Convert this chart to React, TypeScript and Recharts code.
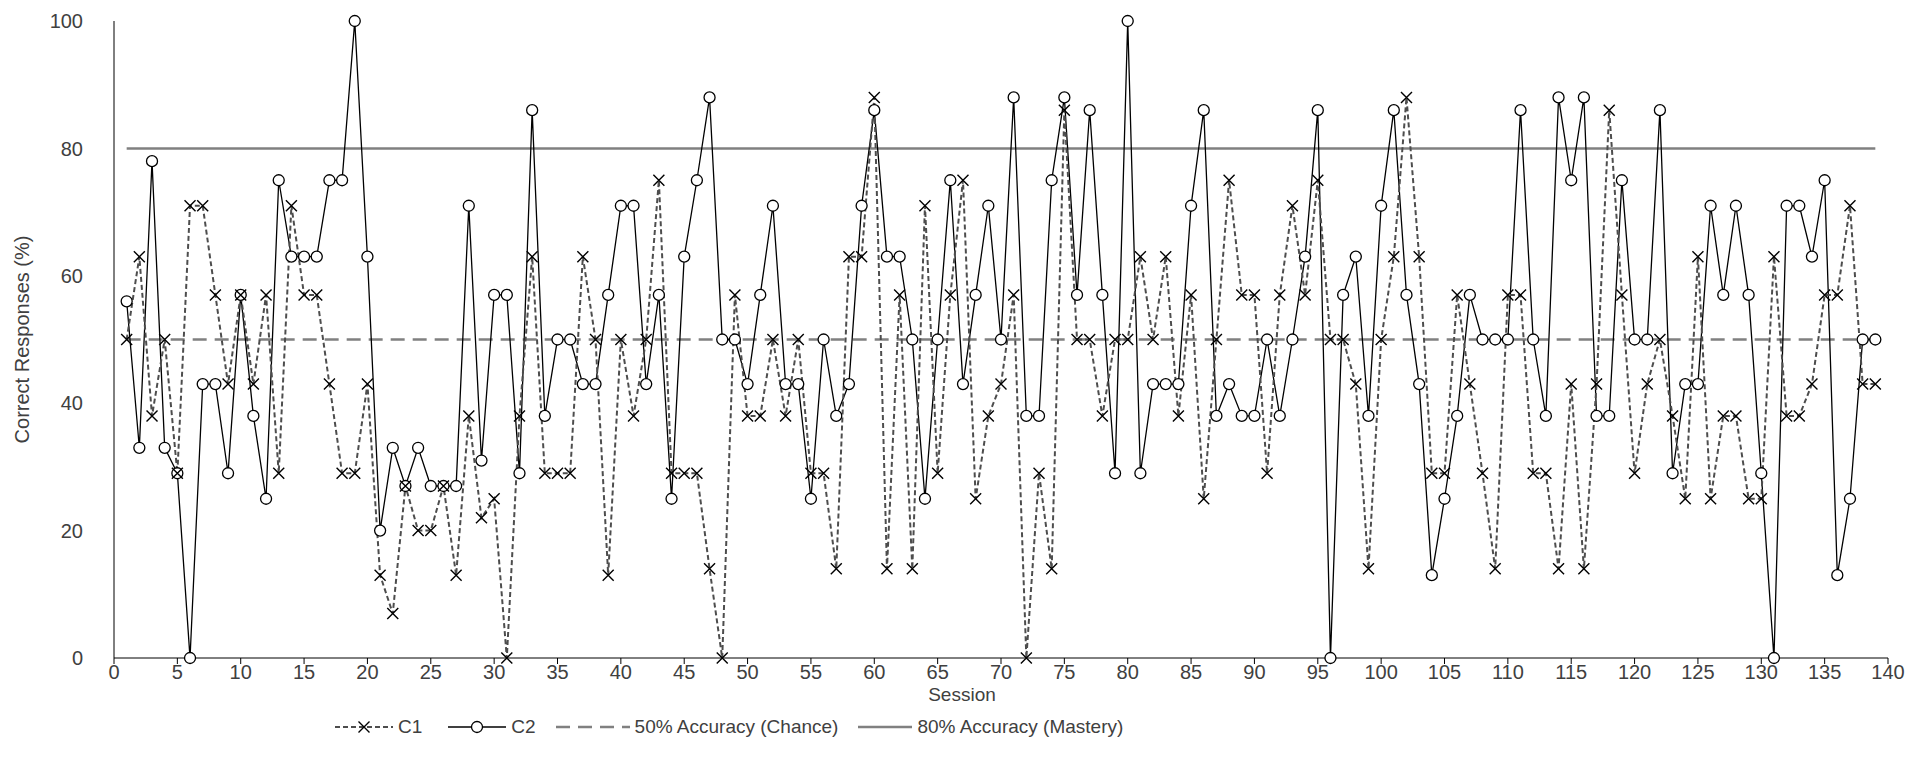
import { LineChart, Line, XAxis, YAxis, Legend } from 'recharts'

// session-by-session accuracy (%)
const c1 = [
  50, 63, 38, 50, 29, 71, 71, 57, 43, 57, 43, 57, 29, 71, 57, 57, 43, 29, 29, 43,
  13, 7, 27, 20, 20, 27, 13, 38, 22, 25, 0, 38, 63, 29, 29, 29, 63, 50, 13, 50,
  38, 50, 75, 29, 29, 29, 14, 0, 57, 38, 38, 50, 38, 50, 29, 29, 14, 63, 63, 88,
  14, 57, 14, 71, 29, 57, 75, 25, 38, 43, 57, 0, 29, 14, 86, 50, 50, 38, 50, 50,
  63, 50, 63, 38, 57, 25, 50, 75, 57, 57, 29, 57, 71, 57, 75, 50, 50, 43, 14, 50,
  63, 88, 63, 29, 29, 57, 43, 29, 14, 57, 57, 29, 29, 14, 43, 14, 43, 86, 57, 29,
  43, 50, 38, 25, 63, 25, 38, 38, 25, 25, 63, 38, 38, 43, 57, 57, 71, 43, 43,
]

const c2 = [
  56, 33, 78, 33, 29, 0, 43, 43, 29, 57, 38, 25, 75, 63, 63, 63, 75, 75, 100, 63,
  20, 33, 27, 33, 27, 27, 27, 71, 31, 57, 57, 29, 86, 38, 50, 50, 43, 43, 57, 71,
  71, 43, 57, 25, 63, 75, 88, 50, 50, 43, 57, 71, 43, 43, 25, 50, 38, 43, 71, 86,
  63, 63, 50, 25, 50, 75, 43, 57, 71, 50, 88, 38, 38, 75, 88, 57, 86, 57, 29, 100,
  29, 43, 43, 43, 71, 86, 38, 43, 38, 38, 50, 38, 50, 63, 86, 0, 57, 63, 38, 71,
  86, 57, 43, 13, 25, 38, 57, 50, 50, 50, 86, 50, 38, 88, 75, 88, 38, 38, 75, 50,
  50, 86, 29, 43, 43, 71, 57, 71, 57, 29, 0, 71, 71, 63, 75, 13, 25, 50, 50,
]

const CHANCE = 50
const MASTERY = 80

const xTicks = [0, 5, 10, 15, 20, 25, 30, 35, 40, 45, 50, 55, 60, 65, 70, 75, 80, 85, 90, 95, 100, 105, 110, 115, 120, 125, 130, 135, 140]
const yTicks = [0, 20, 40, 60, 80, 100]

const data = c1.map((v, i) => ({
  session: i + 1,
  c1: v,
  c2: c2[i],
  chance: CHANCE,
  mastery: MASTERY,
}))

const FONT = '"Liberation Sans", Arial, sans-serif'
const TEXT = '#404040'
const GREY = '#808080'

const CrossDot = (props: any) => {
  const { cx, cy } = props
  if (cx == null || cy == null) return null
  const s = 5.5
  return (
    <path
      d={`M${cx - s},${cy - s}L${cx + s},${cy + s}M${cx - s},${cy + s}L${cx + s},${cy - s}`}
      stroke="#000"
      strokeWidth={1.4}
      fill="none"
    />
  )
}

const legendItems = [
  { name: 'C1', kind: 'c1', width: 58, gap: 0 },
  { name: 'C2', kind: 'c2', width: 58, gap: 26 },
  { name: '50% Accuracy (Chance)', kind: 'chance', width: 74, gap: 20 },
  { name: '80% Accuracy (Mastery)', kind: 'mastery', width: 54, gap: 20 },
]

const renderLegend = () => (
  <div style={{ display: 'flex', alignItems: 'center', height: 40, paddingLeft: 335, fontFamily: FONT, fontSize: 19, color: TEXT }}>
    {legendItems.map((item) => {
      const w = item.width
      const m = w / 2
      return (
        <div key={item.name} style={{ display: 'flex', alignItems: 'center', marginLeft: item.gap }}>
          <svg width={w} height={16}>
            {item.kind === 'c1' && (
              <>
                <line x1={0} y1={8} x2={w} y2={8} stroke="#4d4d4d" strokeWidth={2} strokeDasharray="5 3" />
                <path d={`M${m - 5.5},2.5L${m + 5.5},13.5M${m - 5.5},13.5L${m + 5.5},2.5`} stroke="#000" strokeWidth={1.4} />
              </>
            )}
            {item.kind === 'c2' && (
              <>
                <line x1={0} y1={8} x2={w} y2={8} stroke="#000" strokeWidth={1.3} />
                <circle cx={m} cy={8} r={5.5} fill="#fff" stroke="#000" strokeWidth={1.3} />
              </>
            )}
            {item.kind === 'chance' && (
              <line x1={0} y1={8} x2={w} y2={8} stroke={GREY} strokeWidth={2.5} strokeDasharray="14 8" />
            )}
            {item.kind === 'mastery' && <line x1={0} y1={8} x2={w} y2={8} stroke={GREY} strokeWidth={2.5} />}
          </svg>
          <span style={{ marginLeft: 5 }}>{item.name}</span>
        </div>
      )
    })}
  </div>
)

export default function App() {
  return (
    <div style={{ position: 'absolute', left: 0, top: 0, width: 1923, height: 783, background: '#fff' }}>
      <LineChart width={1923} height={783} data={data} margin={{ top: 21, right: 35, bottom: 36, left: 0 }}>
        <XAxis
          dataKey="session"
          type="number"
          domain={[0, 140]}
          ticks={xTicks}
          interval={0}
          height={49}
          tickSize={6}
          tickMargin={1}
          stroke="#000"
          tick={{ fontSize: 20, fill: TEXT, fontFamily: FONT }}
          label={{
            content: () => (
              <text x={962} y={701} textAnchor="middle" fontSize={19} fill={TEXT} fontFamily={FONT}>
                Session
              </text>
            ),
          }}
        />
        <YAxis
          type="number"
          domain={[0, 100]}
          ticks={yTicks}
          width={114}
          tickLine={false}
          tickSize={8}
          tickMargin={23}
          stroke="#000"
          tick={{ fontSize: 20, fill: TEXT, fontFamily: FONT }}
          label={{
            value: 'Correct Responses (%)',
            angle: -90,
            position: 'insideLeft',
            offset: 22,
            style: { textAnchor: 'middle', fontSize: 20, fill: TEXT, fontFamily: FONT },
          }}
        />
        <Legend verticalAlign="bottom" content={renderLegend} wrapperStyle={{ left: 0, width: 1923, height: 40 }} />
        <Line dataKey="mastery" stroke={GREY} strokeWidth={2.5} dot={false} isAnimationActive={false} />
        <Line dataKey="chance" stroke={GREY} strokeWidth={2.5} strokeDasharray="14 8" dot={false} isAnimationActive={false} />
        <Line
          dataKey="c2"
          stroke="#000"
          strokeWidth={1.3}
          dot={{ r: 5.5, fill: '#fff', stroke: '#000', strokeWidth: 1.3 }}
          isAnimationActive={false}
        />
        <Line
          dataKey="c1"
          stroke="#4d4d4d"
          strokeWidth={2}
          strokeDasharray="5 3"
          dot={<CrossDot />}
          isAnimationActive={false}
        />
      </LineChart>
    </div>
  )
}
